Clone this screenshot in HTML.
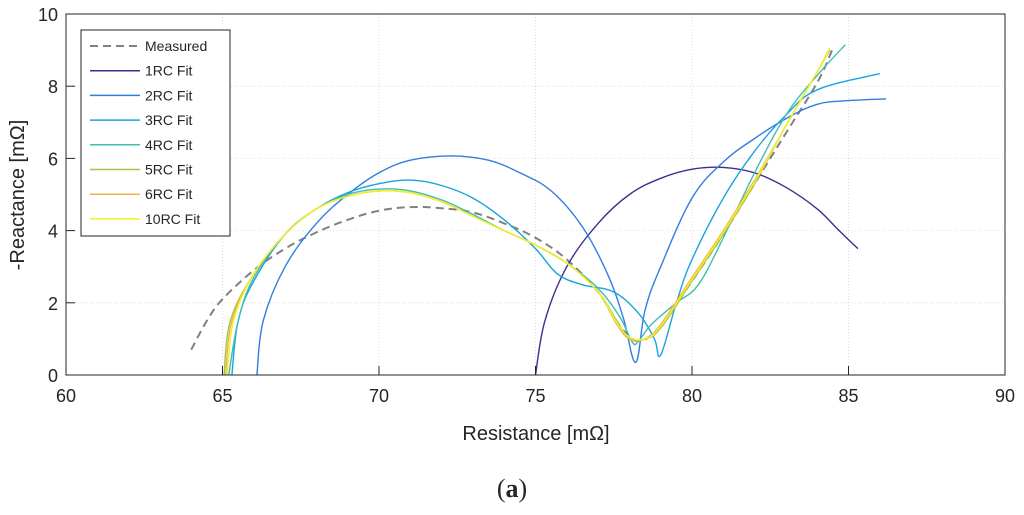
<!DOCTYPE html>
<html><head><meta charset="utf-8"><style>
body{margin:0;background:#fff;}
svg text{font-family:"Liberation Sans",sans-serif;fill:#262626;}
</style></head><body>
<svg id="chart" width="1024" height="510" xmlns="http://www.w3.org/2000/svg">
<g id="grid"></g>
<g id="series"></g>
<rect x="66" y="14" width="939" height="361" fill="none" stroke="#262626" stroke-width="1"/>
<g id="ticks"></g>
<text x="536" y="440" font-size="20" text-anchor="middle">Resistance [mΩ]</text>
<text transform="translate(24,195) rotate(-90)" font-size="20" text-anchor="middle">-Reactance [mΩ]</text>
<text x="512" y="497" font-size="26" text-anchor="middle" style="font-family:'Liberation Serif',serif">(<tspan font-weight="bold">a</tspan>)</text>
<g id="legend"></g>
</svg>
<script>
const xTicks=[60,65,70,75,80,85,90];
const yTicks=[0,2,4,6,8,10];
const seriesNames=["Measured","1RC Fit","2RC Fit","3RC Fit","4RC Fit","5RC Fit","6RC Fit","10RC Fit"];
const measured=[[64,0.7],[64.5,1.5],[65,2.1],[66,2.9],[67,3.5],[68,3.95],[69,4.3],[70,4.55],[71,4.65],[72,4.62],[73,4.5],[74,4.2],[75,3.8],[76,3.2],[77,2.3],[77.5,1.6],[78,1.05],[78.3,0.95],[78.7,1.1],[79.2,1.6],[80,2.6],[81,3.9],[82,5.3],[83,6.7],[84,8.1],[84.5,9.05]];
const fit1=[[75,0],[75.3,1.5],[76,3],[77,4.2],[78,5],[79,5.45],[80,5.7],[81,5.75],[82,5.6],[83,5.2],[84,4.6],[84.7,4],[85.3,3.5]];
const fit2=[[66.1,0],[66.3,1.5],[67,3],[68,4.2],[69,5],[70,5.6],[71,5.95],[72.3,6.07],[73.5,5.95],[74.5,5.6],[75.5,5.1],[76.5,4.1],[77.3,2.8],[77.8,1.6],[78.2,0.35],[78.5,1.8],[79,3],[80,4.9],[81,5.9],[82,6.55],[83,7.1],[84,7.5],[85,7.6],[86.2,7.65]];
const fit3=[[65.3,0],[65.5,1.5],[66,2.6],[67,3.9],[68,4.6],[69,5.05],[70,5.3],[71,5.4],[72,5.25],[73,4.9],[74,4.3],[75,3.5],[75.7,2.8],[76.5,2.5],[77.5,2.3],[78.3,1.7],[78.8,1.0],[79,0.55],[79.5,2],[80,3.2],[81,4.9],[82,6.2],[83,7.2],[84,7.9],[86,8.35]];
const fit4=[[65.2,0],[65.5,1.5],[66,2.7],[67,3.9],[68,4.6],[69,5],[70,5.15],[71,5.1],[72,4.85],[73,4.45],[74,4],[75,3.6],[76,3.1],[77,2.4],[77.7,1.6],[78.1,0.9],[78.3,0.95],[78.7,1.4],[79.5,2],[80.2,2.5],[81,3.8],[82,5.6],[83,7.2],[84,8.3],[84.9,9.15]];
const fit5=[[65.05,0],[65.25,1.5],[66,2.8],[67,3.9],[68,4.6],[69,4.95],[70,5.1],[71,5.05],[72,4.8],[73,4.4],[74,4],[75,3.6],[76,3.1],[77,2.3],[77.6,1.5],[78,1.0],[78.5,1.0],[79,1.3],[80,2.6],[81,3.9],[82,5.3],[83,6.9],[84,8.4],[84.4,9.0]];
const fit6=[[65.1,0],[65.3,1.5],[66,2.8],[67,3.9],[68,4.6],[69,4.95],[70,5.1],[71,5.05],[72,4.8],[73,4.4],[74,4],[75,3.6],[76,3.1],[77,2.3],[77.6,1.4],[78,1.0],[78.5,1.0],[79,1.4],[80,2.7],[81,4.0],[82,5.4],[83,6.9],[84,8.4],[84.4,9.05]];
const fit10=[[65.15,0],[65.35,1.5],[66,2.8],[67,3.9],[68,4.6],[69,4.95],[70,5.1],[71,5.05],[72,4.8],[73,4.4],[74,4],[75,3.6],[76,3.1],[77,2.3],[77.6,1.45],[78,1.05],[78.5,1.0],[79,1.35],[80,2.65],[81,3.95],[82,5.35],[83,6.9],[84,8.4],[84.4,9.05]];
const allSeries=[measured,fit1,fit2,fit3,fit4,fit5,fit6,fit10];
const colors=["#808080","#3e2e8e","#2f7ee0","#1aa3dd","#3fc0ae","#a6c64a","#f2b24c","#f6f024"];
const X=v=>66+(v-60)*(939/30), Y=v=>375-v*36.1;
const NS="http://www.w3.org/2000/svg";
function mk(t,a,p){const e=document.createElementNS(NS,t);for(const k in a)e.setAttribute(k,a[k]);p.appendChild(e);return e;}
function smooth(pts){
  const P=pts.map(p=>[X(p[0]),Y(p[1])]);
  let d='M'+P[0][0].toFixed(1)+','+P[0][1].toFixed(1);
  for(let i=0;i<P.length-1;i++){
    const p0=P[Math.max(0,i-1)],p1=P[i],p2=P[i+1],p3=P[Math.min(P.length-1,i+2)];
    const t=0.18;
    const c1=[p1[0]+(p2[0]-p0[0])*t,p1[1]+(p2[1]-p0[1])*t];
    const c2=[p2[0]-(p3[0]-p1[0])*t,p2[1]-(p3[1]-p1[1])*t];
    d+=' C'+c1.map(v=>v.toFixed(1)).join(',')+' '+c2.map(v=>v.toFixed(1)).join(',')+' '+p2.map(v=>v.toFixed(1)).join(',');
  }
  return d;
}
const grid=document.getElementById('grid'),ticks=document.getElementById('ticks');
xTicks.forEach(t=>{
  if(t>60&&t<90){const l=mk('line',{x1:X(t),x2:X(t),y1:14,y2:375,stroke:'#dcdcdc','stroke-dasharray':'1,2'},grid);
  
  }
  const k=mk('line',{x1:X(t),x2:X(t),y1:375,y2:366,stroke:'#262626'},ticks);
  
  
  const tx=mk('text',{x:X(t),y:402,'font-size':18,'text-anchor':'middle'},ticks);tx.textContent=t;
  
  
});
yTicks.forEach(t=>{
  if(t>0&&t<10){const l=mk('line',{x1:66,x2:1005,y1:Y(t),y2:Y(t),stroke:'#dcdcdc','stroke-dasharray':'1,2'},grid);
  
  }
  const k=mk('line',{x1:66,x2:75,y1:Y(t),y2:Y(t),stroke:'#262626'},ticks);
  
  
  const tx=mk('text',{x:58,y:Y(t)+7,'font-size':18,'text-anchor':'end'},ticks);tx.textContent=t;
  
  
});
const sg=document.getElementById('series');
allSeries.forEach((s,i)=>{
  const a={d:smooth(s),fill:'none',stroke:colors[i],'stroke-width':i==0?2:1.4,'stroke-linejoin':'round'};
  if(i==0)a['stroke-dasharray']='8,5';
  const p=mk('path',a,sg);
  
  
});
const lg=document.getElementById('legend');
const box=mk('rect',{x:81,y:30,width:149,height:206,fill:'#fff',stroke:'#262626','stroke-width':1},lg);


seriesNames.forEach((n,i)=>{
  const y=46+i*24.7;
  const a={x1:90,x2:140,y1:y,y2:y,stroke:colors[i],'stroke-width':i==0?2:1.5};
  if(i==0)a['stroke-dasharray']='8,5';
  const l=mk('line',a,lg);
  
  
  const t=mk('text',{x:145,y:y+5,'font-size':14},lg);t.textContent=n;
  
  
});
</script>
</body></html>
